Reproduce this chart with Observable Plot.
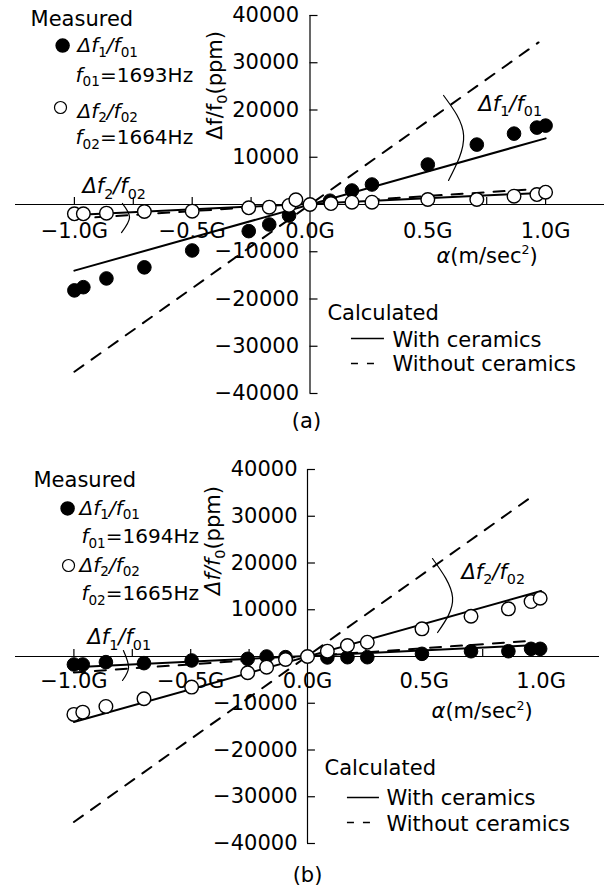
<!DOCTYPE html>
<html><head><meta charset="utf-8">
<script src="https://cdn.jsdelivr.net/npm/d3@7"></script>
<script src="https://cdn.jsdelivr.net/npm/@observablehq/plot@0.6"></script>
<style>body{margin:0;background:#fff} svg{display:block}</style>
</head><body><div id="chart"></div>
<script>
// ---------- data ----------
// axis ticks
const xTicks = [-1, -0.75, -0.5, -0.25, 0.25, 0.5, 0.75, 1];
const xLabelValues = [-1, -0.5, 0, 0.5, 1];
const xLabelText = ["−1.0G", "−0.5G", "0.0G", "0.5G", "1.0G"];
const yTicks = [40000, 30000, 20000, 10000, -10000, -20000, -30000, -40000];
const yTickLabels = ["40000", "30000", "20000", "10000", "−10000", "−20000", "−30000", "−40000"];

// (a) measured Δf1/f01 (filled)
const aF1Alpha = [-1.0, -0.962, -0.864, -0.703, -0.5, -0.26, -0.173, -0.089, 0.085, 0.178, 0.263, 0.5, 0.708, 0.866, 0.963, 1.0];
const aF1Value = [-18180, -17500, -15650, -13300, -9730, -5640, -4230, -2330, 800, 2960, 4230, 8460, 12680, 15000, 16280, 16700];
// (a) measured Δf2/f02 (open)
const aF2Alpha = [-1.0, -0.962, -0.864, -0.703, -0.5, -0.26, -0.173, -0.089, -0.06, 0, 0.089, 0.178, 0.263, 0.5, 0.708, 0.866, 0.963, 1.0];
const aF2Value = [-1970, -1970, -1830, -1480, -1410, -700, -560, -200, 1000, 0, 200, 490, 490, 1060, 1060, 1760, 2110, 2600];
// (a) calculated
const aWithF1 = [[-1, -14000], [1, 14000]];
const aWithoutF1 = [[-1, -35400], [0.97, 34300]];
const aWithF2 = [[-1, -2200], [1, 2500]];
const aWithoutF2 = [[-1, -3000], [0.97, 3300]];

// (b) measured Δf1/f01 (filled)
const bF1Alpha = [-1.0, -0.962, -0.863, -0.70, -0.496, -0.256, -0.175, -0.094, 0.085, 0.171, 0.256, 0.49, 0.70, 0.86, 0.957, 0.996];
const bF1Value = [-1710, -1710, -1210, -1420, -850, -500, 0, -140, -200, -150, -150, 570, 1130, 1130, 1640, 1640];
// (b) measured Δf2/f02 (open)
const bF2Alpha = [-1.0, -0.962, -0.863, -0.70, -0.496, -0.256, -0.175, -0.094, 0, 0.085, 0.171, 0.256, 0.49, 0.70, 0.86, 0.957, 0.996];
const bF2Value = [-12390, -11900, -10680, -9040, -6550, -3480, -2280, -640, 0, 1140, 2350, 3060, 5910, 8610, 10190, 11750, 12460];
// (b) calculated
const bWithF1 = [[-1, -2300], [1, 2500]];
const bWithoutF1 = [[-1, -3400], [0.97, 3400]];
const bWithF2 = [[-1, -14000], [1, 14000]];
const bWithoutF2 = [[-1, -35400], [0.966, 34400]];

// ---------- layout (annotation anchors in data units) ----------
const FS = 21;
const LS = 20; // legend entry size
const panels = [
  {
    height: 440, mt: 15, mb: 47, ml: 15, mr: 4, xTickLen: 1480, xLabelDy: 33, yLabelDx: -11,
    f1: [aF1Alpha, aF1Value], f2: [aF2Alpha, aF2Value],
    withL: [aWithF1, aWithF2], withoutL: [aWithoutF1, aWithoutF2],
    texts: [
      [-1.186, 37880, "Measured", FS],
      [-0.987, 32170, "*Δf*_{1}*/f*_{01}", LS],
      [-0.995, 26030, "*f*_{01}=1693Hz", LS],
      [-0.987, 18410, "*Δf*_{2}*/f*_{02}", LS],
      [-0.995, 12700, "*f*_{02}=1664Hz", LS],
      [-0.966, 2330, "*Δf*_{2}*/f*_{02}", FS],
      [0.715, 19890, "*Δf*_{1}*/f*_{01}", FS],
      [0.537, -12280, "*α*(m/sec^{2})", FS],
      [0.074, -24340, "Calculated", FS],
      [0.350, -30260, "With ceramics", FS],
      [0.350, -35340, "Without ceramics", FS]
    ],
    dotF: [-1.050, 33650], dotO: [-1.059, 20530],
    arcs: [[[0.567, 23070], [0.652, 14600], [0.588, 5080]], [[-0.796, 210], [-0.766, -2750], [-0.800, -5930]]],
    solidSample: [0.176, 0.316, -28360], dashSample: [0.176, 0.282, -33650],
    yTitle: [-0.401, 25190, "Δf/f_{0}(ppm)"],
    caption: [-0.015, -45930, "(a)"]
  },
  {
    height: 453, mt: 29, mb: 50, ml: 15, mr: 9, xTickLen: 1500, xLabelDy: 31, yLabelDx: -10,
    f1: [bF1Alpha, bF1Value], f2: [bF2Alpha, bF2Value],
    withL: [bWithF1, bWithF2], withoutL: [bWithoutF1, bWithoutF2],
    texts: [
      [-1.173, 36150, "Measured", FS],
      [-0.976, 30370, "*Δf*_{1}*/f*_{01}", LS],
      [-0.968, 24180, "*f*_{01}=1694Hz", LS],
      [-0.976, 18180, "*Δf*_{2}*/f*_{02}", LS],
      [-0.968, 11980, "*f*_{02}=1665Hz", LS],
      [-0.942, 2570, "*Δf*_{1}*/f*_{01}", FS],
      [0.659, 16680, "*Δf*_{2}*/f*_{02}", FS],
      [0.531, -13260, "*α*(m/sec^{2})", FS],
      [0.073, -25450, "Calculated", FS],
      [0.338, -31870, "With ceramics", FS],
      [0.338, -37220, "Without ceramics", FS]
    ],
    dotF: [-1.027, 31660], dotO: [-1.023, 19470],
    arcs: [[[0.535, 20960], [0.621, 12620], [0.557, 5130]], [[-0.788, 1280], [-0.766, -2350], [-0.792, -5130]]],
    solidSample: [0.171, 0.308, -30160], dashSample: [0.171, 0.278, -35510],
    yTitle: [-0.402, 24810, "*Δf/f*_{0}(ppm)"],
    caption: [0, -46840, "(b)"]
  }
];

function esc(s) { return s.replace(/&/g, "&amp;").replace(/</g, "&lt;"); }
function markup(s, fs) {
  const toks = s.match(/\*[^*]+\*|_\{[^}]*\}|\^\{[^}]*\}|[^*_^]+/g) || [];
  let out = "", shift = 0;
  for (const t of toks) {
    let attrs = "", content = t, dy = -shift;
    shift = 0;
    if (t.startsWith("*")) { content = t.slice(1, -1); attrs = ' font-style="italic"'; }
    else if (t.startsWith("_{")) { content = t.slice(2, -1); const d = fs * 0.24; dy += d; shift = d; attrs = ` font-size="${(fs * 0.68).toFixed(1)}" font-style="normal"`; }
    else if (t.startsWith("^{")) { content = t.slice(2, -1); const d = -fs * 0.42; dy += d; shift = d; attrs = ` font-size="${(fs * 0.6).toFixed(1)}"`; }
    out += `<tspan${attrs}${dy ? ` dy="${dy.toFixed(2)}"` : ""}>${esc(content)}</tspan>`;
  }
  return out;
}

const toPts = ([al, vals]) => al.map((a, i) => ({a, v: vals[i]}));
const toLine = (arr) => arr.map(([a, v]) => ({a, v}));

const root = document.getElementById("chart");
for (const P of panels) {
  const marks = [
    Plot.ruleY([0], {x1: -1.25, x2: 1.25, stroke: "black", strokeWidth: 1.2}),
    Plot.ruleX([0], {y1: -40000, y2: 40000, stroke: "black", strokeWidth: 1.2}),
    Plot.ruleX(xTicks, {x: d => d, y1: 0, y2: P.xTickLen, stroke: "black", strokeWidth: 1.2}),
    Plot.ruleY(yTicks, {y: d => d, x1: 0, x2: 0.034, stroke: "black", strokeWidth: 1.2}),
    Plot.text(yTicks, {x: 0, y: d => d, text: (d, i) => yTickLabels[i], dx: P.yLabelDx, textAnchor: "end", lineAnchor: "middle", fontSize: FS, fill: "black"}),
    Plot.text(xLabelValues, {x: d => d, y: 0, text: (d, i) => xLabelText[i], dy: P.xLabelDy, textAnchor: "middle", lineAnchor: "bottom", fontSize: FS, fill: "black"}),
  ];
  for (const L of P.withL) marks.push(Plot.line(toLine(L), {x: "a", y: "v", stroke: "black", strokeWidth: 2}));
  for (const L of P.withoutL) marks.push(Plot.line(toLine(L), {x: "a", y: "v", stroke: "black", strokeWidth: 2, strokeDasharray: "11,10"}));
  for (const A of P.arcs) marks.push(Plot.line(toLine(A), {x: "a", y: "v", curve: "natural", stroke: "black", strokeWidth: 1.2}));
  marks.push(
    Plot.dot(toPts(P.f1), {x: "a", y: "v", r: 6.8, fill: "black", stroke: "black", strokeWidth: 1}),
    Plot.dot(toPts(P.f2), {x: "a", y: "v", r: 6.8, fill: "white", stroke: "black", strokeWidth: 1.4}),
    Plot.dot([P.dotF], {x: d => d[0], y: d => d[1], r: 6.5, fill: "black", stroke: "black"}),
    Plot.dot([P.dotO], {x: d => d[0], y: d => d[1], r: 6, fill: "white", stroke: "black", strokeWidth: 1.2}),
    Plot.ruleY([P.solidSample], {x1: d => d[0], x2: d => d[1], y: d => d[2], stroke: "black", strokeWidth: 1.5}),
    Plot.ruleY([P.dashSample], {x1: d => d[0], x2: d => d[1], y: d => d[2], stroke: "black", strokeWidth: 1.5, strokeDasharray: "7,9"}),
    Plot.text(P.texts, {x: d => d[0], y: d => d[1], text: d => d[2], fontSize: d => d[3], textAnchor: "start", lineAnchor: "bottom", fill: "black"}),
    Plot.text([P.yTitle], {x: d => d[0], y: d => d[1], text: d => d[2], rotate: -90, textAnchor: "middle", lineAnchor: "middle", fontSize: FS, fill: "black"}),
    Plot.text([P.caption], {x: d => d[0], y: d => d[1], text: d => d[2], textAnchor: "middle", lineAnchor: "middle", fontSize: FS, fill: "black"})
  );
  const svg = Plot.plot({
    width: 608, height: P.height,
    marginLeft: P.ml, marginRight: P.mr, marginTop: P.mt, marginBottom: P.mb,
    x: {domain: [-1.25, 1.25], axis: null},
    y: {domain: [-40000, 40000], axis: null},
    style: {fontFamily: "DejaVu Sans", fontSize: FS + "px", background: "white", overflow: "visible", color: "black"},
    marks
  });
  svg.querySelectorAll("text").forEach(el => {
    const s = el.textContent;
    if (/[*_^]/.test(s)) {
      const fsAttr = el.getAttribute("font-size") || (el.parentNode && el.parentNode.getAttribute("font-size"));
      const fs = parseFloat(fsAttr) || FS;
      el.innerHTML = markup(s, fs);
    }
  });
  root.appendChild(svg);
}
</script>
</body></html>
